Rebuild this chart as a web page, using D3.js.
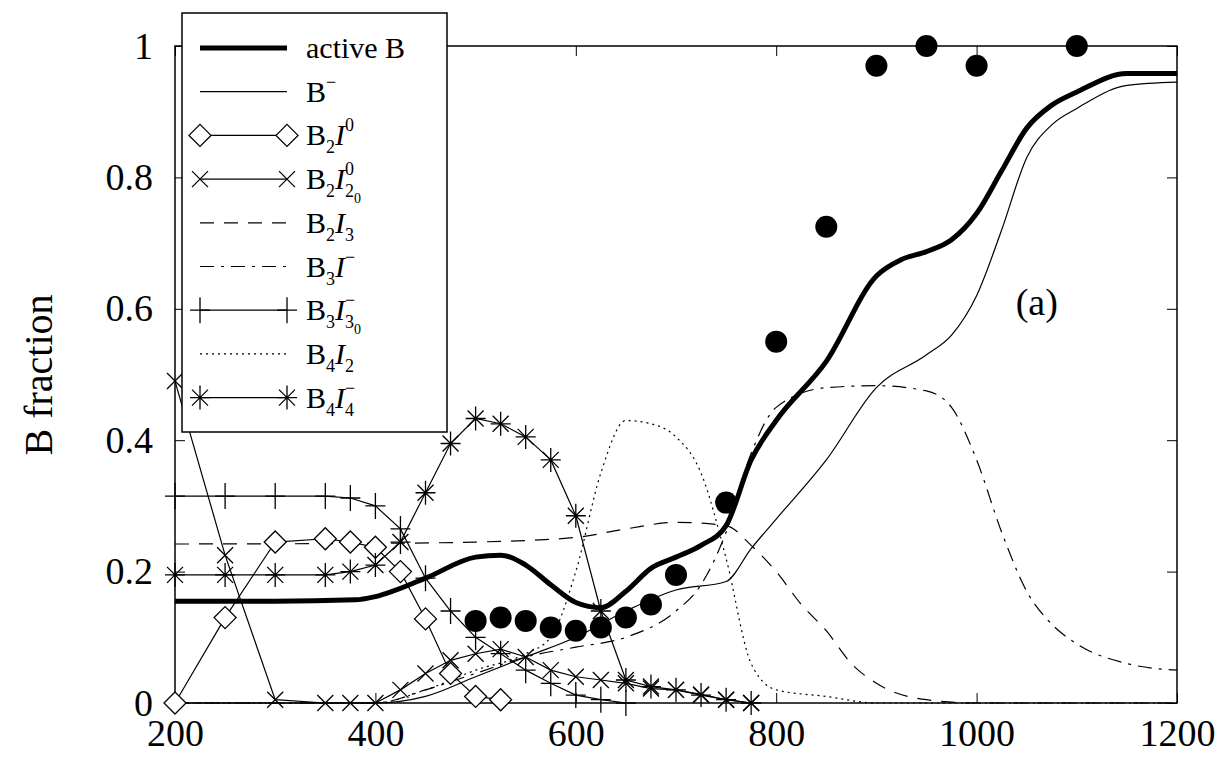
<!DOCTYPE html>
<html><head><meta charset="utf-8">
<script src="https://cdn.jsdelivr.net/npm/d3@7"></script>
<style>body{margin:0;background:#fff}text{font-family:"Liberation Serif","DejaVu Serif",serif}</style>
</head><body><svg id="c" width="1227" height="766"></svg>
<script>
// data
const activeB = [[200,.155],[300,.155],[380,.157],[400,.162],[450,.19],[500,.222],[525,.225],[550,.21],[575,.18],[600,.153],[625,.145],[650,.17],[675,.205],[700,.222],[725,.24],[750,.27],[775,.37],[800,.43],[850,.52],[900,.65],[925,.675],[950,.687],[975,.705],[1000,.745],[1025,.81],[1050,.875],[1075,.91],[1100,.93],[1150,.958],[1200,.958]];
const bMinus = [[200,0],[400,0],[450,.01],[500,.04],[550,.07],[600,.1],[650,.14],[700,.172],[750,.185],[775,.235],[800,.28],[850,.37],[900,.48],[950,.53],[975,.56],[1000,.62],[1025,.72],[1050,.83],[1075,.88],[1100,.905],[1150,.94],[1200,.945]];
const b2i0 = [[200,0],[250,.13],[300,.245],[350,.25],[375,.245],[400,.237],[425,.2],[450,.128],[475,.045],[500,.01],[525,.005]];
const b2i20 = [[200,.49],[250,.225],[300,.005],[350,0],[375,0],[400,0],[425,.02],[450,.045],[475,.065],[500,.075],[525,.082],[550,.07],[575,.05],[600,.04],[625,.035],[650,.03],[675,.022],[700,.02],[725,.013],[750,.005],[775,0]];
const b2i3 = [[200,.242],[400,.243],[500,.245],[600,.252],[650,.265],[700,.275],[750,.27],[775,.24],[800,.2],[825,.15],[850,.11],[875,.06],[900,.03],[950,.005],[1000,0],[1200,0]];
const b3i = [[200,0],[400,0],[450,.02],[500,.045],[550,.07],[600,.085],[650,.1],[700,.14],[725,.18],[750,.26],[775,.38],[800,.45],[850,.48],[900,.483],[950,.475],[975,.45],[1000,.37],[1025,.26],[1050,.17],[1075,.12],[1100,.09],[1150,.06],[1200,.05]];
const b3i3 = [[200,.315],[250,.315],[300,.315],[350,.315],[375,.312],[400,.3],[425,.265],[450,.19],[475,.14],[500,.1],[525,.075],[550,.05],[575,.03],[600,.012],[625,.005],[650,0]];
const b4i2 = [[200,0],[400,0],[450,.02],[500,.05],[550,.075],[575,.1],[600,.2],[625,.35],[650,.43],[675,.425],[700,.405],[725,.35],[750,.22],[775,.06],[800,.02],[850,.01],[900,0],[1200,0]];
const b4i4 = [[200,.195],[250,.195],[300,.195],[350,.195],[375,.2],[400,.21],[425,.245],[450,.32],[475,.395],[500,.433],[525,.425],[550,.405],[575,.37],[600,.285],[625,.14],[650,.035],[675,.025],[700,.02],[725,.012],[750,.005],[775,0]];
const expt = [[500,.125],[525,.13],[550,.125],[575,.115],[600,.11],[625,.115],[650,.13],[675,.15],[700,.195],[750,.305],[800,.55],[850,.725],[900,.97],[950,1],[1000,.97],[1100,1]];
const xTicks = [200,400,600,800,1000,1200];
const yTicks = [0,0.2,0.4,0.6,0.8,1];

const svg = d3.select("#c");
const x = d3.scaleLinear().domain([200,1200]).range([175,1177]);
const y = d3.scaleLinear().domain([0,1]).range([703,46]);
const line = d3.line().x(d=>x(d[0])).y(d=>y(d[1])).curve(d3.curveMonotoneX);
const pline = d3.line().x(d=>x(d[0])).y(d=>y(d[1]));

// ticks (inward, also on top/right)
svg.append("g").attr("transform","translate(0,703)").call(d3.axisBottom(x).tickValues(xTicks).tickSize(-10).tickPadding(16).tickFormat(d3.format("d")));
svg.append("g").attr("transform","translate(0,46)").call(d3.axisTop(x).tickValues(xTicks).tickSize(-10).tickFormat(""));
svg.append("g").attr("transform","translate(175,0)").call(d3.axisLeft(y).tickValues(yTicks).tickSize(-10).tickPadding(22).tickFormat(d=>d===0||d===1?d:d3.format(".1f")(d)));
svg.append("g").attr("transform","translate(1177,0)").call(d3.axisRight(y).tickValues(yTicks).tickSize(-10).tickFormat(""));
svg.selectAll(".domain").remove();
svg.selectAll(".tick line").attr("stroke","#000");
svg.selectAll(".tick text").attr("font-size",38).attr("font-family","Liberation Serif").attr("fill","#000");
svg.append("rect").attr("x",175).attr("y",46).attr("width",1002).attr("height",657).attr("fill","none").attr("stroke","#000").attr("stroke-width",1.5);

svg.append("text").attr("transform","translate(52,375) rotate(-90)").attr("text-anchor","middle").attr("font-size",40).text("B fraction");
svg.append("text").attr("x",x(1060)).attr("y",y(0.59)).attr("text-anchor","middle").attr("font-size",38).text("(a)");

const series = [
  {d:b4i2, w:1.2, dash:"2,4", curve:true},
  {d:b3i, w:1.2, dash:"14,7,3,7", curve:true},
  {d:b2i3, w:1.2, dash:"14,10", curve:true},
  {d:bMinus, w:1.2, curve:true},
  {d:b2i0, w:1.2, mark:"diamond"},
  {d:b2i20, w:1.2, mark:"cross"},
  {d:b3i3, w:1.2, mark:"plus"},
  {d:b4i4, w:1.2, mark:"star"},
  {d:activeB, w:5, curve:true}
];
const markPath = {
  diamond: "M0,-11L11,0L0,11L-11,0Z",
  cross: "M-8,-8L8,8M-8,8L8,-8",
  plus: "M-10,0L10,0M0,-13L0,13",
  star: "M-10,0L10,0M0,-12L0,12M-8,-8L8,8M-8,8L8,-8"
};
function drawMark(g, m, cx, cy){
  g.append("path").attr("d",markPath[m]).attr("transform",`translate(${cx},${cy})`)
   .attr("fill",m==="diamond"?"#fff":"none").attr("stroke","#000").attr("stroke-width",1.3);
}
series.forEach(s=>{
  svg.append("path").attr("d",(s.curve?line:pline)(s.d)).attr("fill","none").attr("stroke","#000")
    .attr("stroke-width",s.w).attr("stroke-dasharray",s.dash||null);
  if(s.mark) s.d.forEach(p=>drawMark(svg,s.mark,x(p[0]),y(p[1])));
});
svg.selectAll(null).data(expt).join("circle").attr("cx",d=>x(d[0])).attr("cy",d=>y(d[1])).attr("r",11).attr("fill","#000");

// legend: [B, n, I, sub, sub of sub, superscript]
const lg = svg.append("g");
lg.append("rect").attr("x",182).attr("y",13).attr("width",265).attr("height",419).attr("fill","#fff").attr("stroke","#000").attr("stroke-width",1.5);
const items = [
  {t:"active B", w:5},
  {t:["B",null,null,null,null,"−"], w:1.2},
  {t:["B","2","I",null,null,"0"], mark:"diamond"},
  {t:["B","2","I","2","0","0"], mark:"cross"},
  {t:["B","2","I","3"], dash:"14,10"},
  {t:["B","3","I",null,null,"−"], dash:"14,7,3,7"},
  {t:["B","3","I","3","0","−"], mark:"plus"},
  {t:["B","4","I","2"], dash:"2,4"},
  {t:["B","4","I","4",null,"−"], mark:"star"}
];
items.forEach((it,i)=>{
  const yy = 48 + i*43.7;
  lg.append("line").attr("x1",200).attr("x2",287).attr("y1",yy).attr("y2",yy).attr("stroke","#000")
    .attr("stroke-width",it.w||1.2).attr("stroke-dasharray",it.dash||null);
  if(it.mark){drawMark(lg,it.mark,200,yy);drawMark(lg,it.mark,287,yy);}
  const tx = lg.append("text").attr("x",306).attr("y",yy+10).attr("font-size",30);
  if(typeof it.t==="string"){tx.text(it.t);return;}
  const [B,n,I,sub,sub2,sup] = it.t;
  let off = 0; // current baseline offset
  const add = (s,to,size,extra)=>{const t=tx.append("tspan").attr("dy",to-off).attr("font-size",size).text(s);off=to;if(extra)extra(t);return t;};
  add(B,0,30);
  if(n) add(n,8,18);
  if(I) add(I,0,30,t=>t.attr("font-style","italic"));
  if(sub) add(sub,8,18);
  if(sub2) add(sub2,14,14);
  if(sup) add(sup,-14,18,t=>{if(sub) t.attr("dx",sub2?-16:-9);});
});
</script></body></html>
